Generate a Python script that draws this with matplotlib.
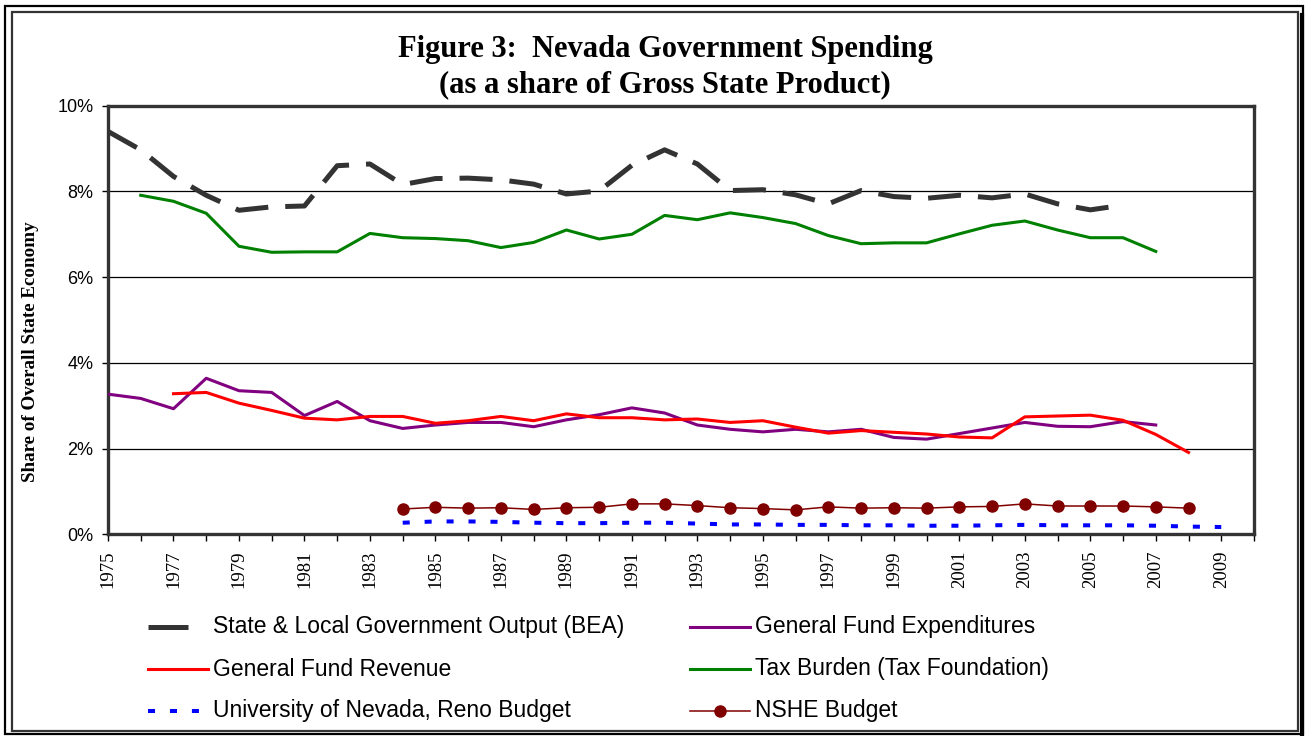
import numpy as np
import matplotlib
matplotlib.use('Agg')
import matplotlib.pyplot as plt
from matplotlib.lines import Line2D
from matplotlib.patches import Rectangle
from matplotlib.ticker import FuncFormatter

# --- data (share of gross state product, %) ---
years = list(range(1975, 2011))

bea_start = 1975
bea = [9.40, 8.97, 8.35, 7.91, 7.56, 7.64, 7.66, 8.60, 8.64, 8.16, 8.30, 8.31,
       8.27, 8.17, 7.94, 8.01, 8.61, 8.97, 8.64, 8.02, 8.04, 7.92, 7.71, 8.02,
       7.88, 7.84, 7.91, 7.85, 7.94, 7.71, 7.57, 7.68]

tax_start = 1976
tax = [7.91, 7.77, 7.49, 6.72, 6.58, 6.59, 6.59, 7.02, 6.92, 6.90, 6.85, 6.69,
       6.81, 7.10, 6.89, 7.00, 7.44, 7.34, 7.50, 7.39, 7.25, 6.97, 6.78, 6.80,
       6.80, 7.01, 7.21, 7.31, 7.10, 6.92, 6.92, 6.60]

exp_start = 1975
expend = [3.27, 3.17, 2.93, 3.64, 3.35, 3.31, 2.77, 3.10, 2.65, 2.47, 2.55, 2.61,
          2.61, 2.51, 2.67, 2.79, 2.95, 2.83, 2.55, 2.45, 2.39, 2.45, 2.39, 2.45,
          2.26, 2.22, 2.35, 2.48, 2.61, 2.52, 2.51, 2.63, 2.55]

rev_start = 1977
revenue = [3.28, 3.31, 3.06, 2.89, 2.71, 2.67, 2.75, 2.75, 2.59, 2.65, 2.75, 2.65,
           2.81, 2.72, 2.72, 2.67, 2.69, 2.61, 2.65, 2.50, 2.36, 2.42, 2.38, 2.34,
           2.27, 2.25, 2.74, 2.76, 2.78, 2.66, 2.33, 1.91]

nshe_start = 1984
nshe = [0.59, 0.63, 0.61, 0.62, 0.58, 0.62, 0.63, 0.71, 0.71, 0.67, 0.62, 0.60,
        0.57, 0.64, 0.61, 0.62, 0.61, 0.64, 0.65, 0.71, 0.66, 0.66, 0.66, 0.64, 0.61]

unr_start = 1984
unr = [0.27, 0.30, 0.30, 0.29, 0.27, 0.26, 0.26, 0.27, 0.27, 0.25, 0.23, 0.23,
       0.22, 0.22, 0.21, 0.21, 0.20, 0.20, 0.21, 0.22, 0.21, 0.21, 0.21, 0.20,
       0.18, 0.17]

W, H = 1309, 736
fig = plt.figure(figsize=(W / 100, H / 100), dpi=100)
fig.patch.set_facecolor('white')

# axes box in pixels: left 108, right 1254, top 106, bottom 534
ax = fig.add_axes([108 / W, 1 - 534.3 / H, (1254 - 108) / W, (534.3 - 105.7) / H])


def xs(start, vals):
    return np.arange(start, start + len(vals))


ax.plot(xs(bea_start, bea), bea, color='#333333', lw=3.6, dashes=(6.6, 3.4),
        solid_capstyle='butt', dash_capstyle='butt', zorder=5)
ax.plot(xs(tax_start, tax), tax, color='#008000', lw=2.2, zorder=4)
ax.plot(xs(exp_start, expend), expend, color='#800080', lw=2.2, zorder=4)
ax.plot(xs(rev_start, revenue), revenue, color='#FF0000', lw=2.2, zorder=4)
ax.plot(xs(nshe_start, nshe), nshe, color='#800000', lw=1.1, marker='o',
        markersize=8, zorder=4)
ax.plot(xs(unr_start, unr), unr, color='#0000FF', lw=2.9, dashes=(1.75, 3.7),
        dash_capstyle='butt', zorder=4)

ax.set_xlim(1975, 2010)
ax.set_ylim(0, 10)
ax.set_yticks([0, 2, 4, 6, 8, 10])
ax.yaxis.set_major_formatter(FuncFormatter(lambda v, p: f'{v:.0f}%'))
ax.set_xticks(years)
ax.set_xticklabels([str(y) if (y - 1975) % 2 == 0 and y < 2010 else '' for y in years],
                   rotation=90, family='Liberation Serif', fontsize=13.5)
for lbl in ax.get_yticklabels():
    lbl.set_family('Liberation Sans')
    lbl.set_fontsize(13)
ax.tick_params(axis='x', direction='out', length=5, width=1, pad=7, colors='black')
ax.tick_params(axis='y', direction='out', length=4.5, width=1, pad=6, colors='black')

for y in [2, 4, 6, 8]:
    ax.axhline(y, color='black', lw=0.9, zorder=1)
for s in ax.spines.values():
    s.set_color('#333333')
    s.set_linewidth(2.4)

# title and axis label
fig.text(665 / W, 1 - 50 / H, 'Figure 3:  Nevada Government Spending', ha='center',
         va='center', fontsize=22, fontweight='bold', family='Liberation Serif')
fig.text(665 / W, 1 - 85 / H, '(as a share of Gross State Product)', ha='center',
         va='center', fontsize=22, fontweight='bold', family='Liberation Serif')
fig.text(31 / W, 1 - 352 / H, 'Share of Overall State Economy', rotation=90,
         ha='center', va='center', fontsize=13.7, fontweight='bold',
         family='Liberation Serif')

# legend drawn by hand, two columns x three rows
def px(x, y):
    return x / W, 1 - y / H


legend_rows = [
    (148, 188, 627, 'State & Local Government Output (BEA)',
     dict(color='#333333', lw=3.6, solid_capstyle='butt')),
    (690, 750, 627, 'General Fund Expenditures', dict(color='#800080', lw=2.2)),
    (148, 208, 669, 'General Fund Revenue', dict(color='#FF0000', lw=2.2)),
    (690, 750, 669, 'Tax Burden (Tax Foundation)', dict(color='#008000', lw=2.2)),
    (148, 208, 711, 'University of Nevada, Reno Budget',
     dict(color='#0000FF', lw=2.9, dashes=(1.75, 3.7), dash_capstyle='butt')),
    (690, 750, 711, 'NSHE Budget', dict(color='#800000', lw=1.1)),
]
for x0, x1, yy, label, style in legend_rows:
    a, b = px(x0, yy)
    c, _ = px(x1, yy)
    fig.add_artist(Line2D([a, c], [b, b], transform=fig.transFigure, **style))
    tx = 213 if x0 < 400 else 755
    fig.text(tx / W, b, label, ha='left', va='center', fontsize=16.5,
             family='Liberation Sans')
mx, my = px(720, 711)
fig.add_artist(Line2D([mx], [my], transform=fig.transFigure, marker='o',
                      markersize=8, color='#800000', lw=0))

# chart border (double frame with shadow)
def rect(x0, y0, x1, y1, **kw):
    a, b = px(x0, y1)
    return Rectangle((a, b), (x1 - x0) / W, (y1 - y0) / H, transform=fig.transFigure,
                     fill=False, **kw)


fig.add_artist(rect(5, 6, 1303, 734, lw=1.6, edgecolor='black'))
fig.add_artist(rect(12, 12, 1298, 731, lw=1.6, edgecolor='#333333'))
a, b = px(1302, 15)
c, d = px(1302, 735)
fig.add_artist(Line2D([a, c], [b, d], transform=fig.transFigure, lw=3, color='black'))

fig.savefig('out.png', dpi=100, facecolor='white')
